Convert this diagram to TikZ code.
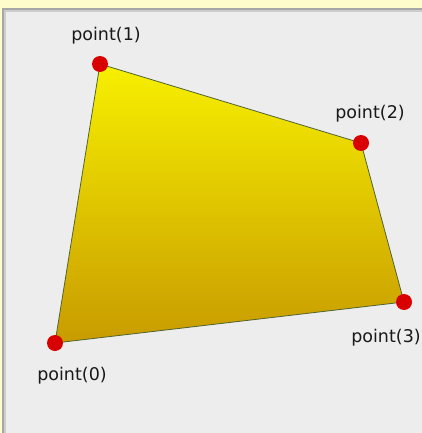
\documentclass[tikz,border=0pt]{standalone}
\usepackage{fontspec}
\setmainfont{DejaVu Sans}
\begin{document}
\begin{tikzpicture}[x=1pt,y=-1pt,
  dot/.style={circle,fill=red!85!black,inner sep=0pt,minimum size=16pt},
  lbl/.style={font=\fontsize{17.5}{20}\selectfont,text=black!90,inner sep=0pt}]
\useasboundingbox (0,0) rectangle (422,433);
\fill[yellow!20!white] (0,0) rectangle (422,433);
\fill[gray!70] (2,8) rectangle (422,433);
\fill[gray!40] (4,10) rectangle (422,433);
\fill[black!7] (6,12) rectangle (422,433);
\coordinate (p0) at (55,343);
\coordinate (p1) at (100,64);
\coordinate (p2) at (361,143);
\coordinate (p3) at (404,302);
\shade[top color={rgb,255:red,247;green,240;blue,0},bottom color={rgb,255:red,200;green,155;blue,0}]
  (p0) -- (p1) -- (p2) -- (p3) -- cycle;
\draw[line width=0.8pt,draw={rgb,255:red,80;green,100;blue,50}] (p0) -- (p1) -- (p2) -- (p3) -- cycle;
\node[dot] (d0) at (p0) {};
\node[dot] (d1) at (p1) {};
\node[dot] (d2) at (p2) {};
\node[dot] (d3) at (p3) {};
\node[lbl] (l0) at (72,376) {point(0)};
\node[lbl] (l1) at (106,36) {point(1)};
\node[lbl] (l2) at (370,114) {point(2)};
\node[lbl] (l3) at (386,338) {point(3)};
\end{tikzpicture}
\end{document}
